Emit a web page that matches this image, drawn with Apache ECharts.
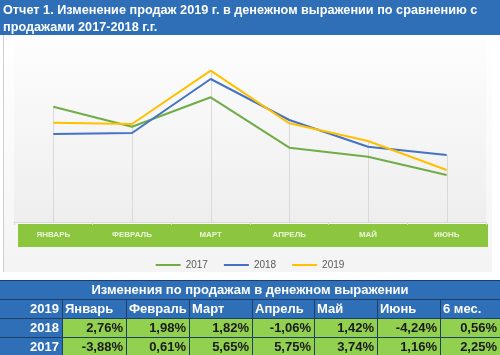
<!DOCTYPE html>
<html><head><meta charset="utf-8">
<script src="https://cdn.jsdelivr.net/npm/echarts@6/dist/echarts.min.js"></script>
<style>html,body{margin:0;padding:0;background:#fff}#c{width:500px;height:355px}</style>
</head><body><div id="c"></div>
<script>
var titleLines = ['Отчет 1. Изменение продаж 2019 г. в денежном выражении по сравнению с', 'продажами 2017-2018 г.г.'];
var months = ['ЯНВАРЬ', 'ФЕВРАЛЬ', 'МАРТ', 'АПРЕЛЬ', 'МАЙ', 'ИЮНЬ'];
var seriesNames = ['2017', '2018', '2019'];
var sales2017 = [436.3, 416.3, 445.7, 395.3, 386.3, 368.0];
var sales2018 = [409.0, 410.0, 464.0, 423.0, 396.3, 388.0];
var sales2019 = [420.3, 419.0, 472.3, 419.7, 402.0, 373.0];
var tableTitle = 'Изменения по продажам в денежном выражении';
var tableHeaderYear = '2019';
var tableCols = ['Январь', 'Февраль', 'Март', 'Апрель', 'Май', 'Июнь', '6 мес.'];
var rowYears = ['2018', '2017'];
var diff2018 = [2.76, 1.98, 1.82, -1.06, 1.42, -4.24, 0.56];
var diff2017 = [-3.88, 0.61, 5.65, 5.75, 3.74, 1.16, 2.25];

var FONT = 'Liberation Sans';
var BLUE = '#2e6fb7';
var GREEN = '#92d050';
var chart = echarts.init(document.getElementById('c'), null, {renderer: 'canvas'});

var maxVals = months.map(function (m, i) { return Math.max(sales2017[i], sales2018[i], sales2019[i]); });

function fmt(v) { return v.toFixed(2).replace('.', ',') + '%'; }

var g = [];
// title bar
g.push({type: 'rect', shape: {x: 0, y: 0, width: 500, height: 35}, style: {fill: BLUE}, z: 10});
g.push({type: 'text', x: 3, y: 10, style: {text: titleLines[0], fill: '#fff', font: 'bold 12.7px ' + FONT, textVerticalAlign: 'middle'}, z: 11});
g.push({type: 'text', x: 3, y: 27, style: {text: titleLines[1], fill: '#fff', font: 'bold 12.7px ' + FONT, textVerticalAlign: 'middle'}, z: 11});
// chart area background + border
g.push({type: 'rect', shape: {x: 4, y: 36, width: 488, height: 236}, style: {fill: {type: 'linear', x: 0, y: 0, x2: 0, y2: 1, colorStops: [{offset: 0, color: '#ffffff'}, {offset: 1, color: '#f4f4f4'}]}}, z: -10});
g.push({type: 'line', shape: {x1: 3.5, y1: 35, x2: 3.5, y2: 272}, style: {stroke: '#cfcfcf', lineWidth: 1}, z: 1});
// green band for axis labels
g.push({type: 'rect', shape: {x: 18, y: 224, width: 470, height: 23}, style: {fill: '#8cc63f'}, z: 0});

// table
var colX = [0, 62, 126, 189, 252, 314, 377, 440, 500];
var rowY = [280, 299, 318, 337, 356];
g.push({type: 'rect', shape: {x: 0, y: rowY[0], width: 500, height: rowY[2] - rowY[0]}, style: {fill: BLUE}, z: 5});
g.push({type: 'rect', shape: {x: 0, y: rowY[2], width: colX[1], height: rowY[4] - rowY[2]}, style: {fill: BLUE}, z: 5});
g.push({type: 'rect', shape: {x: colX[1], y: rowY[2], width: 500 - colX[1], height: rowY[4] - rowY[2]}, style: {fill: GREEN}, z: 5});
g.push({type: 'text', x: 250, y: (rowY[0] + rowY[1]) / 2 + 0.5, style: {text: tableTitle, fill: '#fff', font: 'bold 13px ' + FONT, textAlign: 'center', textVerticalAlign: 'middle'}, z: 7});
g.push({type: 'text', x: colX[1] - 3, y: (rowY[1] + rowY[2]) / 2 + 0.5, style: {text: tableHeaderYear, fill: '#fff', font: 'bold 13px ' + FONT, textAlign: 'right', textVerticalAlign: 'middle'}, z: 7});
tableCols.forEach(function (c, i) {
  g.push({type: 'text', x: colX[i + 1] + 3, y: (rowY[1] + rowY[2]) / 2 + 0.5, style: {text: c, fill: '#fff', font: 'bold 13px ' + FONT, textAlign: 'left', textVerticalAlign: 'middle'}, z: 7});
});
[diff2018, diff2017].forEach(function (row, r) {
  var cy = (rowY[r + 2] + rowY[r + 3]) / 2 + 0.5;
  g.push({type: 'text', x: colX[1] - 3, y: cy, style: {text: rowYears[r], fill: '#fff', font: 'bold 13px ' + FONT, textAlign: 'right', textVerticalAlign: 'middle'}, z: 7});
  row.forEach(function (v, i) {
    g.push({type: 'text', x: colX[i + 2] - 3, y: cy, style: {text: fmt(v), fill: '#1a1a1a', font: 'bold 13px ' + FONT, textAlign: 'right', textVerticalAlign: 'middle'}, z: 7});
  });
});
// table grid lines
var LC = '#1f3f66';
[rowY[1], rowY[2], rowY[3]].forEach(function (y) {
  g.push({type: 'line', shape: {x1: 0, y1: y + 0.5, x2: 500, y2: y + 0.5}, style: {stroke: LC, lineWidth: 1}, z: 6});
});
g.push({type: 'line', shape: {x1: 0, y1: rowY[0] + 0.5, x2: 500, y2: rowY[0] + 0.5}, style: {stroke: LC, lineWidth: 1}, z: 6});
colX.slice(1, 8).forEach(function (x) {
  g.push({type: 'line', shape: {x1: x + 0.5, y1: rowY[1], x2: x + 0.5, y2: rowY[4]}, style: {stroke: LC, lineWidth: 1}, z: 6});
});

chart.setOption({
  animation: false,
  backgroundColor: '#ffffff',
  textStyle: {fontFamily: FONT},
  grid: {left: 14, right: 14, top: 40, bottom: 133,
    show: true, borderWidth: 0,
    backgroundColor: {type: 'linear', x: 0, y: 0, x2: 0, y2: 1, colorStops: [{offset: 0, color: '#fdfdfd'}, {offset: 1, color: '#eeeeee'}]}},
  legend: {
    data: seriesNames, top: 255, left: 'center', icon: 'rect', itemWidth: 25, itemHeight: 2, itemGap: 16,
    textStyle: {color: '#595959', fontSize: 10, fontFamily: FONT}
  },
  xAxis: {
    type: 'category', data: months, boundaryGap: true,
    axisLine: {lineStyle: {color: '#d9d9d9'}},
    axisTick: {show: true, length: 3, lineStyle: {color: '#d9d9d9'}},
    axisLabel: {color: '#eaf5dc', fontSize: 8, fontWeight: 'bold', margin: 9, fontFamily: FONT},
    splitLine: {show: false}
  },
  yAxis: {type: 'value', min: 321, max: 503, show: false, splitLine: {show: false}},
  series: [
    {type: 'custom', name: 'drop', silent: true, z: 1,
      data: maxVals.map(function (v, i) { return [i, v]; }),
      renderItem: function (params, api) {
        var p1 = api.coord([api.value(0), api.value(1)]);
        var p2 = api.coord([api.value(0), 321]);
        var x = Math.round(p1[0]) + 0.5;
        return {type: 'line', shape: {x1: x, y1: p1[1], x2: x, y2: p2[1]}, style: {stroke: '#d9d9d9', lineWidth: 1}};
      }},
    {name: '2017', type: 'line', data: sales2017, symbol: 'none', lineStyle: {width: 2, color: '#70ad47'}, itemStyle: {color: '#70ad47'}, z: 3},
    {name: '2018', type: 'line', data: sales2018, symbol: 'none', lineStyle: {width: 2, color: '#4472c4'}, itemStyle: {color: '#4472c4'}, z: 3},
    {name: '2019', type: 'line', data: sales2019, symbol: 'none', lineStyle: {width: 2, color: '#ffc000'}, itemStyle: {color: '#ffc000'}, z: 3}
  ],
  graphic: g
});
</script></body></html>
